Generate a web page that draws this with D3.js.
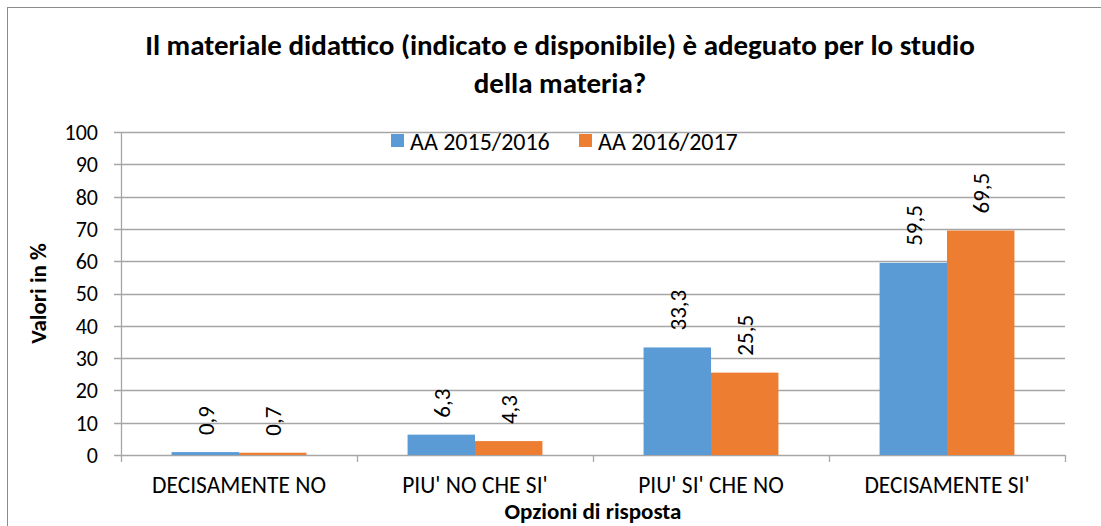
<!DOCTYPE html>
<html>
<head>
<meta charset="utf-8">
<script src="https://cdn.jsdelivr.net/npm/d3@7"></script>
<style>
  body { margin: 0; background: #fff; }
  svg text { font-family: Calibri, Carlito, Lato, sans-serif; fill: #000; }
</style>
</head>
<body>
<div id="chart"></div>
<script>
// chart data
const categories = ["DECISAMENTE NO", "PIU' NO CHE SI'", "PIU' SI' CHE NO", "DECISAMENTE SI'"];
const seriesNames = ["AA 2015/2016", "AA 2016/2017"];
const values2015 = [0.9, 6.3, 33.3, 59.5];
const values2016 = [0.7, 4.3, 25.5, 69.5];
const yTicks = [0, 10, 20, 30, 40, 50, 60, 70, 80, 90, 100];
const colors = ["#5B9BD5", "#ED7D31"];

const width = 1101, height = 526;
const margin = { top: 132, right: 36, bottom: 71, left: 121 };
const labelSize = 23;

const svg = d3.select('#chart').append('svg')
  .attr('width', width)
  .attr('height', height);

// outer frame
svg.append('rect')
  .attr('x', 7.5).attr('y', 7.5)
  .attr('width', width + 20).attr('height', height + 20)
  .attr('fill', 'none')
  .attr('stroke', '#8c8c8c')
  .attr('stroke-width', 1);

const x0 = d3.scaleBand()
  .domain(categories)
  .range([margin.left, width - margin.right]);

const x1 = d3.scaleBand()
  .domain(seriesNames)
  .range([0, x0.bandwidth()])
  .paddingOuter(0.75);

const y = d3.scaleLinear()
  .domain([0, 100])
  .range([height - margin.bottom, margin.top]);

// grid lines
svg.append('g')
  .selectAll('line')
  .data(yTicks)
  .enter().append('line')
  .attr('x1', margin.left - 7)
  .attr('x2', width - margin.right)
  .attr('y1', d => Math.round(y(d)) + 0.5)
  .attr('y2', d => Math.round(y(d)) + 0.5)
  .attr('stroke', '#a6a6a6')
  .attr('stroke-width', 1.3);

// y axis labels
svg.append('g')
  .selectAll('text')
  .data(yTicks)
  .enter().append('text')
  .attr('x', margin.left - 23)
  .attr('y', d => y(d))
  .attr('dy', '0.36em')
  .attr('text-anchor', 'end')
  .style('font-size', '22px')
  .text(d => d);

// y axis line
svg.append('line')
  .attr('x1', margin.left + 0.5).attr('x2', margin.left + 0.5)
  .attr('y1', y(100)).attr('y2', y(0))
  .attr('stroke', '#a6a6a6')
  .attr('stroke-width', 1.3);

// category tick marks
const boundaries = categories.map(c => x0(c)).concat([x0(categories[categories.length - 1]) + x0.bandwidth()]);
svg.append('g')
  .selectAll('line')
  .data(boundaries)
  .enter().append('line')
  .attr('x1', d => Math.round(d) + 0.5)
  .attr('x2', d => Math.round(d) + 0.5)
  .attr('y1', y(0))
  .attr('y2', y(0) + 7)
  .attr('stroke', '#a6a6a6')
  .attr('stroke-width', 1.3);

// bars
const rows = categories.map((c, i) => ({ cat: c, vals: [values2015[i], values2016[i]] }));

const groups = svg.append('g')
  .selectAll('g')
  .data(rows)
  .enter().append('g')
  .attr('transform', d => 'translate(' + x0(d.cat) + ',0)');

groups.selectAll('rect')
  .data(d => d.vals.map((v, j) => ({ name: seriesNames[j], v: v, j: j })))
  .enter().append('rect')
  .attr('x', d => x1(d.name))
  .attr('y', d => y(d.v))
  .attr('width', x1.bandwidth())
  .attr('height', d => y(0) - y(d.v))
  .attr('fill', d => colors[d.j]);

// data labels, rotated
groups.selectAll('text')
  .data(d => d.vals.map((v, j) => ({ name: seriesNames[j], v: v })))
  .enter().append('text')
  .attr('transform', d => 'translate(' + (x1(d.name) + x1.bandwidth() / 2 + labelSize * 0.36) + ',' + (y(d.v) - 17) + ') rotate(-90)')
  .attr('text-anchor', 'start')
  .style('font-size', labelSize + 'px')
  .text(d => String(d.v).replace('.', ','));

// category labels
svg.append('g')
  .selectAll('text')
  .data(categories)
  .enter().append('text')
  .attr('x', d => x0(d) + x0.bandwidth() / 2)
  .attr('y', 493)
  .attr('text-anchor', 'middle')
  .style('font-size', '23.5px')
  .text(d => d);

// axis titles
svg.append('text')
  .attr('x', (margin.left + width - margin.right) / 2)
  .attr('y', 519)
  .attr('text-anchor', 'middle')
  .style('font-size', '23px')
  .style('font-weight', 'bold')
  .text('Opzioni di risposta');

svg.append('text')
  .attr('transform', 'translate(46,' + (y(50)) + ') rotate(-90)')
  .attr('text-anchor', 'middle')
  .style('font-size', '23px')
  .style('font-weight', 'bold')
  .text('Valori in %');

// title
svg.append('text')
  .attr('x', 560)
  .attr('y', 55)
  .attr('text-anchor', 'middle')
  .style('font-size', '29px')
  .style('font-weight', 'bold')
  .text('Il materiale didattico (indicato e disponibile) è adeguato per lo studio');

svg.append('text')
  .attr('x', 560)
  .attr('y', 93)
  .attr('text-anchor', 'middle')
  .style('font-size', '29px')
  .style('font-weight', 'bold')
  .text('della materia?');

// legend
const legend = svg.append('g')
  .selectAll('g')
  .data(seriesNames)
  .enter().append('g')
  .attr('transform', (d, i) => 'translate(' + (391 + i * 188) + ',134)');

legend.append('rect')
  .attr('width', 13).attr('height', 13)
  .attr('fill', (d, i) => colors[i]);

legend.append('text')
  .attr('x', 19)
  .attr('y', 7)
  .attr('dy', '0.36em')
  .style('font-size', '24px')
  .text(d => d);
</script>
</body>
</html>
